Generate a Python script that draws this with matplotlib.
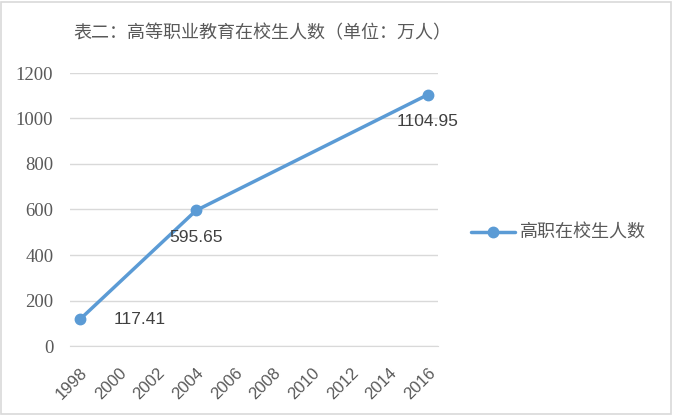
import matplotlib.pyplot as plt
from matplotlib.patches import Rectangle

plt.rcParams['font.family'] = ['Noto Sans CJK SC', 'DejaVu Sans']

# data
years = [1998, 2004, 2016]
students = [117.41, 595.65, 1104.95]
label_text = ["117.41", "595.65", "1104.95"]
xticks = list(range(1998, 2017, 2))
yticks = list(range(0, 1201, 200))
title = "表二：高等职业教育在校生人数（单位：万人）"
series_name = "高职在校生人数"

blue = "#5B9BD5"
grey_text = "#595959"

fig = plt.figure(figsize=(6.73, 4.15), dpi=100)
ax = fig.add_axes([70 / 673, 1 - 346 / 415, 368 / 673, 273 / 415])

ax.plot(years, students, color=blue, linewidth=2.5, marker='o', markersize=7.5,
        label=series_name, solid_capstyle='round')

# data labels (excel-ish placement)
offsets = [(24, 0, 'left', 'center'), (0, -14, 'center', 'top'), (0, -14, 'center', 'top')]
for x, y, t, (dx, dy, ha, va) in zip(years, students, label_text, offsets):
    ax.annotate(t, (x, y), xytext=(dx, dy), textcoords='offset points',
                ha=ha, va=va, fontsize=12.5, color="#404040", family='Liberation Sans')

ax.set_xlim(1997.48, 2016.52)
ax.set_ylim(0, 1200)
ax.set_xticks(xticks)
ax.set_yticks(yticks)
ax.set_xticklabels([str(v) for v in xticks], rotation=45, ha='right',
                   rotation_mode='anchor', fontsize=12, color=grey_text,
                   family='Liberation Sans')
ax.set_yticklabels([str(v) for v in yticks], fontsize=13.5, color=grey_text,
                   family='Liberation Serif')
ax.tick_params(length=0)
ax.tick_params(axis='y', pad=12)
ax.tick_params(axis='x', pad=14)
ax.grid(axis='y', color='#D9D9D9', linewidth=1)
ax.set_axisbelow(True)
for s in ['top', 'right', 'left']:
    ax.spines[s].set_visible(False)
ax.spines['bottom'].set_color('#D9D9D9')

fig.text(262 / 673, 1 - 33 / 415, title, fontsize=13, color=grey_text,
         ha='center', va='center')

fig.legend(loc='center left', bbox_to_anchor=(471 / 673, 1 - 233 / 415),
           frameon=False, fontsize=13, labelcolor=grey_text, handlelength=2.45,
           handletextpad=0.25, borderpad=0, borderaxespad=0)

# chart border
fig.patches.append(Rectangle((0.002, 0.003), 0.995, 0.993, transform=fig.transFigure,
                             fill=False, edgecolor='#D9D9D9', linewidth=1.2))

fig.savefig("out.png", dpi=100)
